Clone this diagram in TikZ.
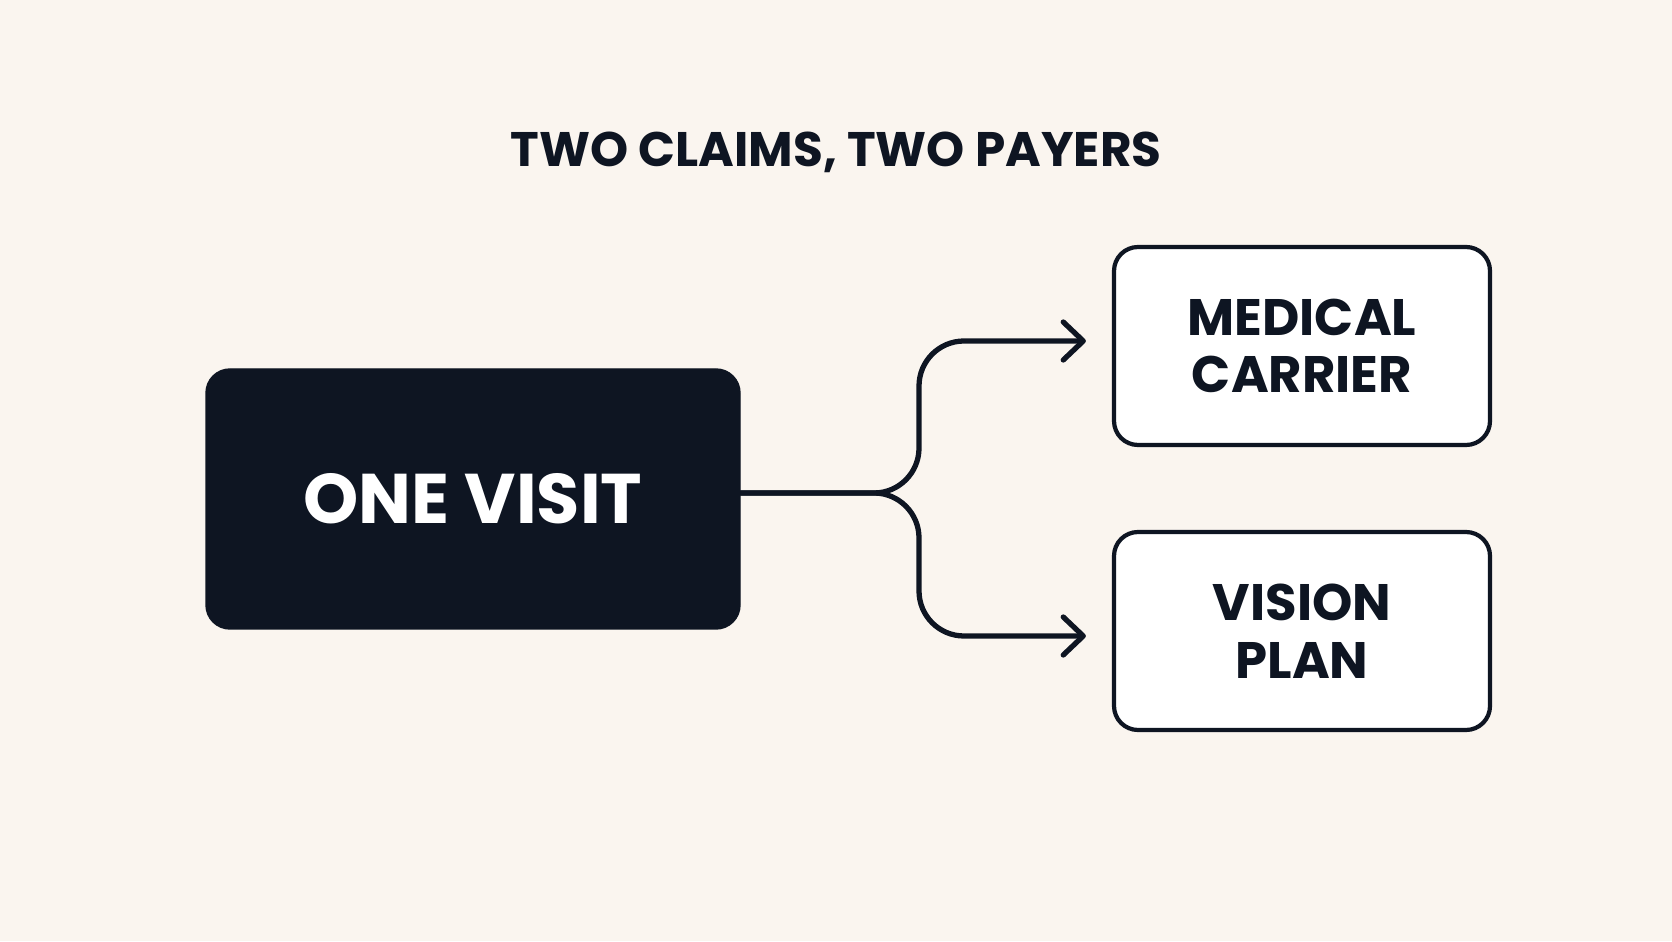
\documentclass[tikz,border=0pt]{standalone}
\usepackage{fontspec}
\setmainfont{Poppins}
\usetikzlibrary{arrows.meta}

\definecolor{paper}{HTML}{FAF5EF}
\definecolor{ink}{HTML}{0E1522}

\tikzset{
  darkbox/.style={draw=ink, fill=ink, rounded corners=0.24cm, minimum width=5.34cm,
    minimum height=2.60cm, text=white, font=\fontsize{20}{24}\selectfont\bfseries},
  payerbox/.style={draw=ink, line width=1.2pt, fill=white, rounded corners=0.24cm,
    minimum width=3.76cm, minimum height=1.98cm, align=center, text=ink,
    font=\fontsize{14.6}{16.4}\selectfont\bfseries},
  flow/.style={draw=ink, line width=1.5pt, rounded corners=0.45cm, line cap=round,
    -{Straight Barb[length=2mm,width=3.8mm,line cap=round,line join=round]}, shorten >=0.26cm}
}

\begin{document}
\begin{tikzpicture}
\fill[paper] (0,0) rectangle (16.72,9.41);
\useasboundingbox (0,0) rectangle (16.72,9.41);

\node[text=ink, font=\fontsize{13.8}{16}\selectfont\bfseries] (title) at (8.36,7.89) {TWO CLAIMS, TWO PAYERS};

\node[darkbox] (visit) at (4.73,4.42) {ONE VISIT};
\node[payerbox] (medical) at (13.02,5.95) {MEDICAL\\CARRIER};
\node[payerbox] (vision) at (13.02,3.10) {VISION\\PLAN};

\coordinate (split) at (9.19,4.48);

\draw[flow] (visit.east |- split) -| ([yshift=0.05cm]split |- medical.west) -- ([yshift=0.05cm]medical.west);
\draw[flow] (visit.east |- split) -| ([yshift=-0.05cm]split |- vision.west) -- ([yshift=-0.05cm]vision.west);
\end{tikzpicture}
\end{document}
